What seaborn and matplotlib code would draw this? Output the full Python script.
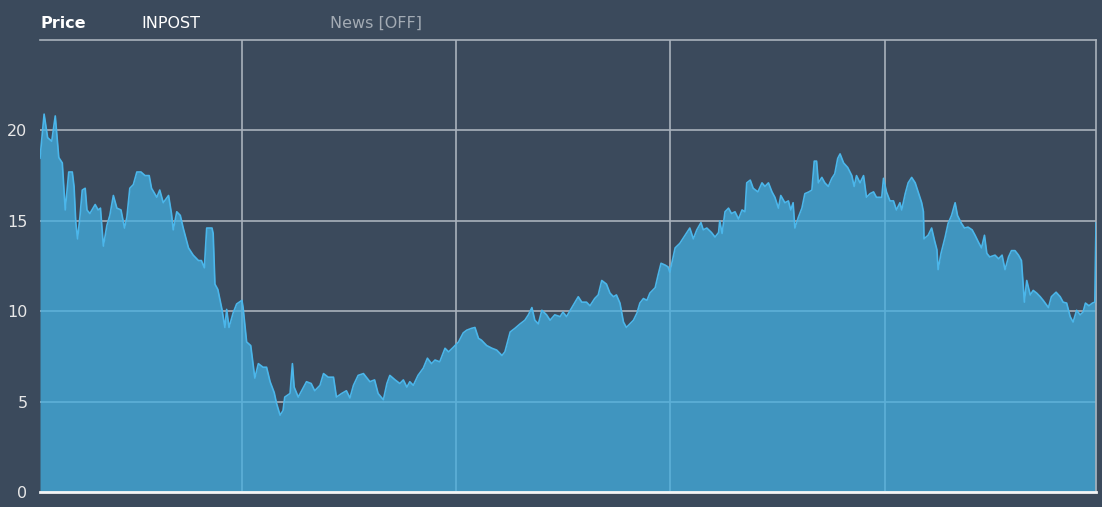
import pandas as pd
import numpy as np
import seaborn as sns
import matplotlib.pyplot as plt
import matplotlib.dates as mdates

# InPost share price (days since first point, price)
listing = "2021-01-22"
days = [0, 7, 13, 20, 26, 30, 32, 38, 43, 49, 55, 58, 61, 64, 68, 72, 77, 80, 85, 94,
        99, 103, 108, 114, 119, 125, 131, 138, 144, 148, 153, 159, 165, 172, 179, 186, 190, 199, 204, 210,
        219, 224, 227, 233, 239, 244, 253, 261, 270, 275, 280, 284, 293, 295, 298, 303, 310, 315, 318, 322,
        329, 335, 344, 346, 352, 359, 366, 372, 380, 386, 392, 399, 403, 409, 414, 417, 426, 430, 433, 440,
        449, 454, 462, 468, 477, 483, 491, 500, 505, 514, 522, 528, 534, 542, 551, 557, 562, 570, 576, 585,
        591, 596, 605, 613, 619, 625, 630, 636, 644, 653, 660, 667, 673, 681, 690, 696, 704, 713, 721, 727,
        735, 741, 747, 752, 761, 770, 778, 787, 792, 801, 809, 818, 826, 832, 838, 843, 849, 855, 863, 869,
        877, 886, 891, 897, 906, 917, 923, 931, 937, 945, 951, 957, 965, 971, 977, 982, 988, 994, 999, 1005,
        1011, 1017, 1022, 1028, 1034, 1039, 1048, 1053, 1058, 1065, 1070, 1073, 1082, 1090, 1099, 1107, 1113, 1119, 1126, 1130,
        1136, 1144, 1150, 1156, 1158, 1162, 1167, 1173, 1178, 1184, 1190, 1196, 1201, 1204, 1210, 1215, 1223, 1230, 1235, 1241,
        1247, 1252, 1258, 1262, 1269, 1275, 1279, 1283, 1286, 1292, 1298, 1303, 1310, 1315, 1319, 1323, 1326, 1332, 1337, 1343,
        1349, 1354, 1359, 1363, 1369, 1376, 1383, 1387, 1391, 1397, 1403, 1408, 1414, 1420, 1425, 1434, 1437, 1442, 1448, 1454,
        1459, 1465, 1468, 1474, 1479, 1485, 1491, 1496, 1502, 1505, 1506, 1513, 1519, 1524, 1528, 1530, 1535, 1542, 1547, 1553,
        1559, 1563, 1569, 1575, 1581, 1588, 1593, 1599, 1604, 1609, 1613, 1618, 1627, 1633, 1639, 1644, 1650, 1655, 1661, 1667,
        1672, 1677, 1681, 1687, 1692, 1698, 1704, 1709, 1718, 1723, 1731, 1738, 1743, 1749, 1755, 1760, 1766, 1772, 1777, 1781,
        1787, 1793, 1797, 1799]
price = [18.45, 20.9, 19.6, 19.4, 20.8, 19.3, 18.5, 18.2, 15.6, 17.7, 17.7, 16.9, 14.9, 14.0, 15.2, 16.7, 16.8, 15.6, 15.4, 15.9,
         15.6, 15.7, 13.6, 14.75, 15.3, 16.4, 15.7, 15.6, 14.6, 15.2, 16.8, 17.0, 17.7, 17.7, 17.5, 17.5, 16.8, 16.3, 16.7, 16.0,
         16.4, 15.4, 14.5, 15.5, 15.3, 14.6, 13.5, 13.1, 12.8, 12.8, 12.4, 14.6, 14.6, 14.3, 11.5, 11.2, 10.1, 9.1, 10.1, 9.1,
         9.9, 10.4, 10.6, 10.2, 8.3, 8.1, 6.3, 7.1, 6.9, 6.9, 6.1, 5.5, 4.9, 4.25, 4.5, 5.25, 5.45, 7.1, 5.8, 5.25,
         5.8, 6.1, 6.0, 5.6, 5.9, 6.55, 6.35, 6.35, 5.25, 5.45, 5.6, 5.2, 5.9, 6.45, 6.55, 6.3, 6.1, 6.2, 5.45, 5.1,
         6.0, 6.45, 6.2, 6.0, 6.2, 5.8, 6.1, 5.9, 6.45, 6.85, 7.4, 7.1, 7.3, 7.2, 7.95, 7.75, 8.0, 8.3, 8.8, 8.95,
         9.05, 9.1, 8.5, 8.4, 8.1, 7.95, 7.85, 7.55, 7.75, 8.85, 9.05, 9.3, 9.5, 9.8, 10.2, 9.5, 9.3, 10.05, 9.8, 9.5,
         9.8, 9.7, 9.95, 9.7, 10.2, 10.8, 10.5, 10.5, 10.3, 10.7, 10.9, 11.7, 11.5, 11.0, 10.8, 10.9, 10.45, 9.4, 9.1, 9.3,
         9.5, 9.9, 10.45, 10.7, 10.6, 11.0, 11.3, 12.0, 12.65, 12.55, 12.45, 12.15, 13.5, 13.75, 14.2, 14.6, 14.0, 14.5, 14.9, 14.5,
         14.6, 14.35, 14.1, 14.35, 15.0, 14.3, 15.5, 15.7, 15.4, 15.5, 15.1, 15.6, 15.5, 17.1, 17.25, 16.8, 16.6, 17.1, 16.9, 17.1,
         16.6, 16.3, 15.7, 16.4, 16.0, 16.1, 15.6, 16.0, 14.6, 15.2, 15.7, 16.5, 16.6, 16.7, 18.3, 18.3, 17.1, 17.4, 17.1, 16.9,
         17.35, 17.6, 18.45, 18.7, 18.2, 17.95, 17.5, 16.9, 17.5, 17.1, 17.5, 16.3, 16.5, 16.6, 16.3, 16.3, 17.35, 16.6, 16.1, 16.1,
         15.6, 16.0, 15.6, 16.5, 17.1, 17.4, 17.1, 16.6, 16.0, 15.5, 14.0, 14.2, 14.6, 13.9, 13.4, 12.3, 13.2, 14.1, 14.85, 15.3,
         16.0, 15.3, 14.9, 14.6, 14.65, 14.5, 14.2, 13.8, 13.5, 14.2, 13.2, 13.0, 13.1, 12.9, 13.1, 12.3, 13.0, 13.35, 13.35, 13.1,
         12.8, 10.5, 11.7, 10.9, 11.15, 11.0, 10.8, 10.6, 10.2, 10.8, 11.05, 10.8, 10.5, 10.45, 9.7, 9.4, 10.05, 9.8, 9.95, 10.45,
         10.3, 10.45, 10.5, 14.9]
y_ticks = [0, 5, 10, 15, 20]

df = pd.DataFrame({
    "date": pd.Timestamp(listing) + pd.to_timedelta(days, unit="D"),
    "price": price,
})

bg = "#3b4a5c"
grid_col = "#a9b2bc"

sns.set_theme(style="darkgrid", rc={
    "axes.facecolor": bg,
    "figure.facecolor": bg,
    "grid.color": grid_col,
    "grid.linewidth": 1.2,
})
plt.rcParams["font.family"] = ["DejaVu Sans"]

fig = plt.figure(figsize=(11.02, 5.07), dpi=100)
ax = fig.add_axes([40 / 1102, 15 / 507, 1056 / 1102, 452 / 507])

# area + line
ax.fill_between(df["date"], df["price"], 0, color="#43afe1", alpha=0.75, linewidth=0, zorder=2)
sns.lineplot(data=df, x="date", y="price", ax=ax, color="#4bb6ea", linewidth=1.2, zorder=3)

ax.set_xlim(df["date"].iloc[0], df["date"].iloc[-1])
ax.set_ylim(0, 25)
ax.set_yticks(y_ticks)
ax.set_yticklabels([str(t) for t in y_ticks])
ax.xaxis.set_major_locator(mdates.YearLocator())
ax.set_xticklabels([])
ax.tick_params(axis="x", length=0)
ax.tick_params(axis="y", length=0, pad=9, labelsize=11.5, labelcolor="#e8e8e8")
ax.set_xlabel("")
ax.set_ylabel("")

for side in ["top", "right"]:
    ax.spines[side].set_visible(True)
    ax.spines[side].set_color(grid_col)
    ax.spines[side].set_linewidth(1.2)
ax.spines["left"].set_visible(False)
ax.spines["bottom"].set_visible(True)
ax.spines["bottom"].set_color("#f2f4f6")
ax.spines["bottom"].set_linewidth(2)
ax.spines["bottom"].set_zorder(4)

# header
ty = 1 - 23 / 507
fig.text(40 / 1102, ty, "Price", color="white", fontsize=11.5, fontweight="bold", va="center")
fig.text(141 / 1102, ty, "INPOST", color="white", fontsize=11.5, va="center")
fig.text(330 / 1102, ty, "News [OFF]", color="#a3abb4", fontsize=11.5, va="center")

plt.savefig("out.png", dpi=100, facecolor=bg)
